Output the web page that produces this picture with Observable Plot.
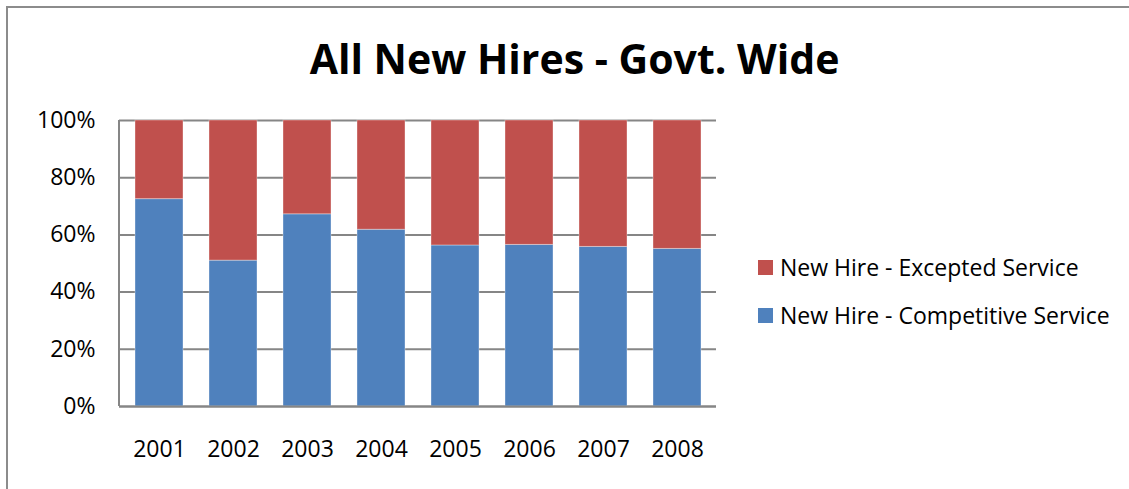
<!DOCTYPE html>
<html>
<head>
<meta charset="utf-8">
<script src="https://cdn.jsdelivr.net/npm/d3@7"></script>
<script src="https://cdn.jsdelivr.net/npm/@observablehq/plot@0.6"></script>
<style>
  html, body { margin: 0; padding: 0; background: #fff; }
  #wrap { position: relative; width: 1129px; height: 489px; overflow: hidden; font-family: "Open Sans", "Liberation Sans", sans-serif; }
  #frame { position: absolute; left: 6px; top: 6px; width: 1140px; height: 500px; border: 2px solid #8c8c8c; box-sizing: border-box; }
  #title { position: absolute; left: 0; width: 1149px; top: 30px; text-align: center; font-size: 41px; font-weight: bold; color: #000; }
  #chart { position: absolute; left: 0; top: 0; }
  .leg { position: absolute; left: 758px; font-size: 23px; color: #000; display: flex; align-items: center; white-space: nowrap; }
  .sw { width: 15px; height: 15px; margin-right: 7px; }
</style>
</head>
<body>
<div id="wrap">
  <div id="frame"></div>
  <div id="title">All New Hires - Govt. Wide</div>
  <div id="chart"></div>
  <div class="leg" style="top:251px"><div class="sw" style="background:#C0504D"></div>New Hire - Excepted Service</div>
  <div class="leg" style="top:299px"><div class="sw" style="background:#4F81BD"></div>New Hire - Competitive Service</div>
</div>
<script>
const years = ["2001","2002","2003","2004","2005","2006","2007","2008"];
const competitive = [72.5, 51.0, 67.2, 61.8, 56.3, 56.5, 55.8, 55.1];
const excepted = competitive.map(v => 100 - v);
const seriesNames = ["New Hire - Competitive Service", "New Hire - Excepted Service"];
const colors = ["#4F81BD", "#C0504D"];
const yTicks = [0, 20, 40, 60, 80, 100];

const data = [];
years.forEach((y, i) => {
  data.push({year: y, series: seriesNames[0], value: competitive[i]});
  data.push({year: y, series: seriesNames[1], value: excepted[i]});
});

const plot = Plot.plot({
  width: 1129,
  height: 489,
  marginTop: 120,
  marginBottom: 83,
  marginLeft: 119,
  marginRight: 413,
  style: {fontFamily: "'Open Sans', 'Liberation Sans', sans-serif", fontSize: "23px", color: "#000", background: "transparent"},
  x: {domain: years, paddingInner: 0.355, paddingOuter: 0.19, label: null},
  y: {domain: [0, 100], label: null},
  color: {domain: seriesNames, range: colors},
  marks: [
    Plot.gridY(yTicks, {stroke: "#868686", strokeOpacity: 1, strokeWidth: 2}),
    Plot.barY(data, {x: "year", y: "value", fill: "series", order: seriesNames, stroke: "#ffffff", strokeOpacity: 0.35, strokeWidth: 1}),
    Plot.ruleY([0], {stroke: "#868686", strokeWidth: 2}),
    Plot.axisY({ticks: yTicks, tickFormat: d => d + "%", tickSize: 0, tickPadding: 24, label: null, fontSize: 23}),
    Plot.axisX({tickSize: 0, tickPadding: 34, label: null, fontSize: 23})
  ]
});
document.getElementById("chart").appendChild(plot);
// left axis line
const svg = d3.select(plot);
svg.append("line").attr("x1", 119).attr("x2", 119).attr("y1", 120).attr("y2", 406).attr("stroke", "#868686").attr("stroke-width", 2);
</script>
</body>
</html>
